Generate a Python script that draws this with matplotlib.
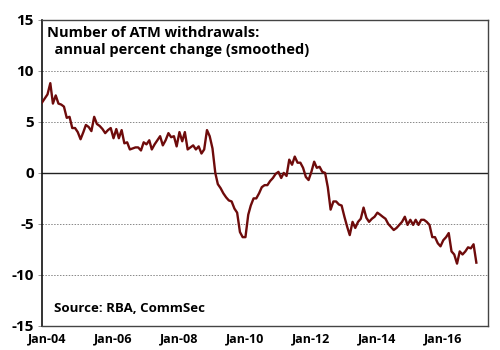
import numpy as np
import pandas as pd
import matplotlib
matplotlib.use('Agg')
import matplotlib.pyplot as plt
import matplotlib.dates as mdates

plt.rcParams['font.family'] = ['Open Sans', 'DejaVu Sans']

# monthly series, smoothed annual % change, starting Nov-2003
start = '2003-11-01'
atm_change = [
    6.9, 7.3, 7.7, 8.8, 6.8, 7.6, 6.8, 6.7, 6.5, 5.4,
    5.5, 4.4, 4.4, 4.0, 3.3, 4.0, 4.7, 4.5, 4.1, 5.5,
    4.8, 4.6, 4.3, 3.9, 4.2, 4.4, 3.4, 4.3, 3.4, 4.2,
    2.9, 3.0, 2.3, 2.4, 2.5, 2.5, 2.2, 3.0, 2.8, 3.2,
    2.3, 2.8, 3.2, 3.6, 2.7, 3.2, 3.9, 3.5, 3.6, 2.6,
    4.0, 3.1, 4.0, 2.3, 2.5, 2.7, 2.3, 2.6, 1.9, 2.3,
    4.2, 3.6, 2.4, 0.0, -1.1, -1.5, -2.0, -2.4, -2.7, -2.8,
    -3.5, -3.9, -5.8, -6.3, -6.3, -4.1, -3.2, -2.5, -2.5, -2.0,
    -1.4, -1.2, -1.2, -0.8, -0.5, -0.1, 0.1, -0.5, 0.0, -0.3,
    1.3, 0.8, 1.6, 1.0, 1.0, 0.5, -0.4, -0.7, 0.1, 1.1,
    0.5, 0.6, 0.1, 0.0, -1.4, -3.6, -2.8, -2.8, -3.1, -3.2,
    -4.3, -5.3, -6.1, -4.8, -5.4, -4.8, -4.5, -3.4, -4.4, -4.8,
    -4.5, -4.3, -3.9, -4.1, -4.3, -4.5, -5.0, -5.3, -5.6, -5.4,
    -5.1, -4.8, -4.3, -5.1, -4.6, -5.1, -4.6, -5.1, -4.6, -4.6,
    -4.8, -5.1, -6.3, -6.3, -6.9, -7.2, -6.6, -6.3, -5.9, -7.7,
    -8.0, -8.9, -7.7, -8.0, -7.7, -7.3, -7.4, -7.0, -8.8,
]
dates = pd.date_range(start, periods=len(atm_change), freq='MS')

yticks = [-15, -10, -5, 0, 5, 10, 15]
xtick_years = [2004, 2006, 2008, 2010, 2012, 2014, 2016]
xtick_labels = ['Jan-04', 'Jan-06', 'Jan-08', 'Jan-10', 'Jan-12', 'Jan-14', 'Jan-16']

fig = plt.figure(figsize=(5, 3.5), dpi=100)
ax = fig.add_axes([0.084, 0.069, 0.892, 0.874])

for y in [-10, -5, 5, 10]:
    ax.axhline(y, color='#888888', lw=0.7, ls=(0, (1.5, 1.5)), zorder=1)
ax.axhline(0, color='#222222', lw=1.0, zorder=2)

ax.plot(dates, atm_change, color='#6e0b0b', lw=1.7, zorder=3)

ax.set_ylim(-15, 15)
ax.set_xlim(pd.Timestamp('2003-11-01'), pd.Timestamp('2017-05-10'))
ax.set_yticks(yticks)
ax.set_yticklabels([str(v) for v in yticks], fontsize=11, fontweight='bold')
ax.set_xticks([pd.Timestamp(f'{y}-01-01') for y in xtick_years])
ax.set_xticklabels(xtick_labels, fontsize=9, fontweight='bold')
ax.tick_params(axis='x', length=0, pad=5)
ax.tick_params(axis='y', length=3, width=0.6, color='#888888', pad=3)

for side in ['top', 'right', 'bottom']:
    ax.spines[side].set_color('#444444')
    ax.spines[side].set_linewidth(1.0)
ax.spines['left'].set_color('#111111')
ax.spines['left'].set_linewidth(1.2)

ax.text(0.012, 0.98, 'Number of ATM withdrawals:\n  annual percent change (smoothed)',
        transform=ax.transAxes, fontsize=10.5, fontweight='bold', va='top',
        ha='left', linespacing=1.3)
ax.text(0.028, 0.057, 'Source: RBA, CommSec', transform=ax.transAxes,
        fontsize=9.5, fontweight='bold', va='center', ha='left')

fig.savefig('out.png', dpi=100)
